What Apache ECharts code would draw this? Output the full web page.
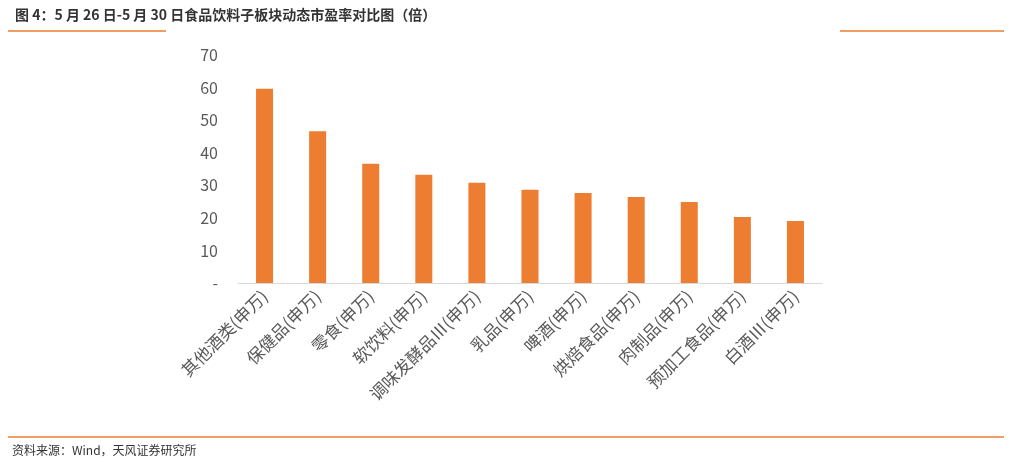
<!DOCTYPE html>
<html><head><meta charset="utf-8">
<script src="https://cdn.jsdelivr.net/npm/echarts@6/dist/echarts.min.js"></script>
<style>body{margin:0;background:#fff}#c{width:1010px;height:465px}</style>
</head><body><div id="c"></div>
<script>
var categories = ["其他酒类(申万)","保健品(申万)","零食(申万)","软饮料(申万)","调味发酵品Ⅲ(申万)","乳品(申万)","啤酒(申万)","烘焙食品(申万)","肉制品(申万)","预加工食品(申万)","白酒Ⅲ(申万)"];
var peValues = [59.6, 46.6, 36.6, 33.2, 30.8, 28.6, 27.6, 26.4, 24.9, 20.3, 19.0];
var yTicks = [0, 10, 20, 30, 40, 50, 60, 70];

var chart = echarts.init(document.getElementById('c'));
var ff = '"Noto Sans CJK SC", sans-serif';
chart.setOption({
	animation: false,
	title: {
		text: "图 4：5 月 26 日-5 月 30 日食品饮料子板块动态市盈率对比图（倍）",
		left: 10, top: 3,
		textStyle: {fontFamily: ff, fontSize: 14, fontWeight: 'bold', color: '#333'}
	},
	graphic: [
		{type:'line', shape:{x1:8,y1:31,x2:166,y2:31}, style:{stroke:'#ed7d31',lineWidth:1.5}},
		{type:'line', shape:{x1:840,y1:31,x2:1004,y2:31}, style:{stroke:'#ed7d31',lineWidth:1.5}},
		{type:'line', shape:{x1:8,y1:437,x2:1004,y2:437}, style:{stroke:'#ed7d31',lineWidth:1.5}},
		{type:'text', left:12, top:444, style:{text:'资料来源：Wind，天风证券研究所', font:'12px "Noto Sans CJK SC"', fill:'#333'}}
	],
	grid: {left: 238, right: 188, top: 55, bottom: 182},
	xAxis: {
		type: 'category', data: categories,
		axisLine: {lineStyle: {color: '#d9d9d9'}},
		axisTick: {show: false},
		axisLabel: {rotate: 45, interval: 0, color: '#595959', fontSize: 17, fontFamily: ff, margin: 10}
	},
	yAxis: {
		type: 'value', min: 0, max: 70, interval: 10,
		splitLine: {show: false},
		axisLine: {show: false}, axisTick: {show: false},
		axisLabel: {color: '#595959', fontSize: 16, fontFamily: ff, margin: 20,
			formatter: function(v){ return v === yTicks[0] ? '-' : v; }}
	},
	series: [{
		type: 'bar', data: peValues, barWidth: 17,
		itemStyle: {color: '#ed7d31'}
	}]
});
</script></body></html>
